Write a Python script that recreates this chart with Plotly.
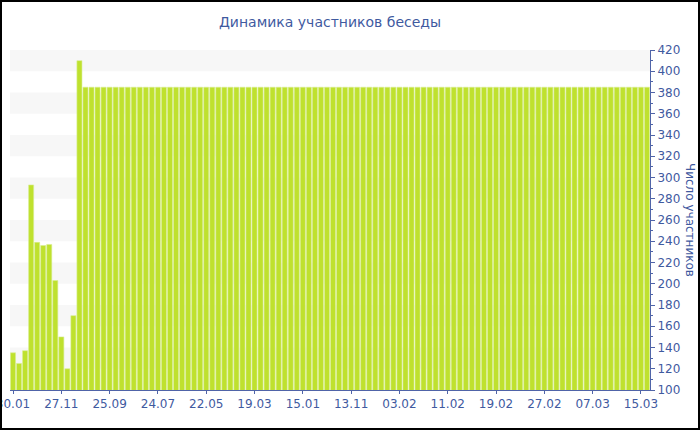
import plotly.graph_objects as go

# ---- data ----
tick_labels = ["30.01", "27.11", "25.09", "24.07", "22.05", "19.03", "15.01",
               "13.11", "03.02", "11.02", "19.02", "27.02", "07.03", "15.03"]

values = [
    135, 125, 137, 293, 239, 236, 237, 203, 150, 120, 170, 410,
    385, 385, 385, 385, 385, 385, 385, 385, 385, 385,
    385, 385, 385, 385, 385, 385, 385, 385, 385, 385,
    385, 385, 385, 385, 385, 385, 385, 385, 385, 385,
    385, 385, 385, 385, 385, 385, 385, 385, 385, 385,
    385, 385, 385, 385, 385, 385, 385, 385, 385, 385,
    385, 385, 385, 385, 385, 385, 385, 385, 385, 385,
    385, 385, 385, 385, 385, 385, 385, 385, 385, 385,
    385, 385, 385, 385, 385, 385, 385, 385, 385, 385,
    385, 385, 385, 385, 385, 385, 385, 385, 385, 385,
    385, 385, 385, 385,
]

title_text = "Динамика участников беседы"
y_title = "Число участников"

# ---- layout constants ----
W, H = 700, 430
ML, MR, MT, MB = 10, 50, 50, 40
PW, PH = W - ML - MR, H - MT - MB
Y_MIN, Y_MAX, Y_STEP = 100, 420, 20
TICK_EVERY = 8

text_color = "#3f5a9f"
axis_color = "#5064a8"
bar_color = "#bfe12e"
FONT = "DejaVu Sans, Verdana, sans-serif"

x = list(range(len(values)))
tickvals = [i * TICK_EVERY for i in range(len(tick_labels))]

fig = go.Figure()
fig.add_trace(go.Bar(
    x=x, y=values,
    marker=dict(color=bar_color, line=dict(color="#d9ee94", width=0.6)),
    hovertemplate="%{y}<extra></extra>",
))

shapes = []
# alternating grey bands
v = Y_MIN + Y_STEP
while v < Y_MAX:
    shapes.append(dict(type="rect", xref="paper", yref="y", x0=0, x1=1,
                       y0=v, y1=v + Y_STEP, fillcolor="#f7f7f7",
                       line=dict(width=0), layer="below"))
    v += 2 * Y_STEP
# outer black border around the whole image
shapes.append(dict(type="rect", xref="paper", yref="paper",
                   x0=(-ML + 1) / PW, x1=1 + (MR - 1) / PW,
                   y0=(-MB + 1) / PH, y1=1 + (MT - 1) / PH,
                   line=dict(color="black", width=2), fillcolor="rgba(0,0,0,0)"))

fig.update_layout(
    width=W, height=H,
    margin=dict(l=ML, r=MR, t=MT, b=MB, pad=0, autoexpand=False),
    paper_bgcolor="white", plot_bgcolor="white",
    font=dict(family=FONT, color=text_color, size=12),
    title=dict(text=title_text, x=0.5, xanchor="center", xref="paper",
               yref="container", y=1 - 22 / H, yanchor="middle",
               font=dict(size=14, color=text_color, family=FONT)),
    bargap=0.16,
    showlegend=False,
    shapes=shapes,
    xaxis=dict(
        automargin=False,
        range=[-0.5, len(values) - 0.5],
        tickmode="array", tickvals=tickvals, ticktext=tick_labels,
        ticklabeloverflow="allow",
        showgrid=False, zeroline=False,
        showline=True, linecolor=axis_color, linewidth=1,
        ticks="outside", ticklen=3, tickcolor=axis_color,
        tickfont=dict(size=12, color=text_color),
    ),
    yaxis=dict(
        automargin=False,
        side="right",
        range=[Y_MIN, Y_MAX],
        tickmode="linear", tick0=Y_MIN, dtick=Y_STEP,
        showgrid=False, zeroline=False,
        showline=True, linecolor=axis_color, linewidth=1,
        ticks="outside", ticklen=4, tickcolor=axis_color,
        minor=dict(ticks="outside", ticklen=2, tickcolor=axis_color, dtick=Y_STEP / 2),
        tickfont=dict(size=12, color=text_color),
    ),
    annotations=[dict(
        text=y_title, xref="paper", yref="paper",
        x=1 + 40 / PW, y=0.5, xanchor="center", yanchor="middle",
        textangle=90, showarrow=False,
        font=dict(size=12, color=text_color),
    )],
)

fig.write_html(
    "out.html",
    config={"displayModeBar": False},
    post_script="document.body.style.margin='0';document.body.style.padding='0';",
)
